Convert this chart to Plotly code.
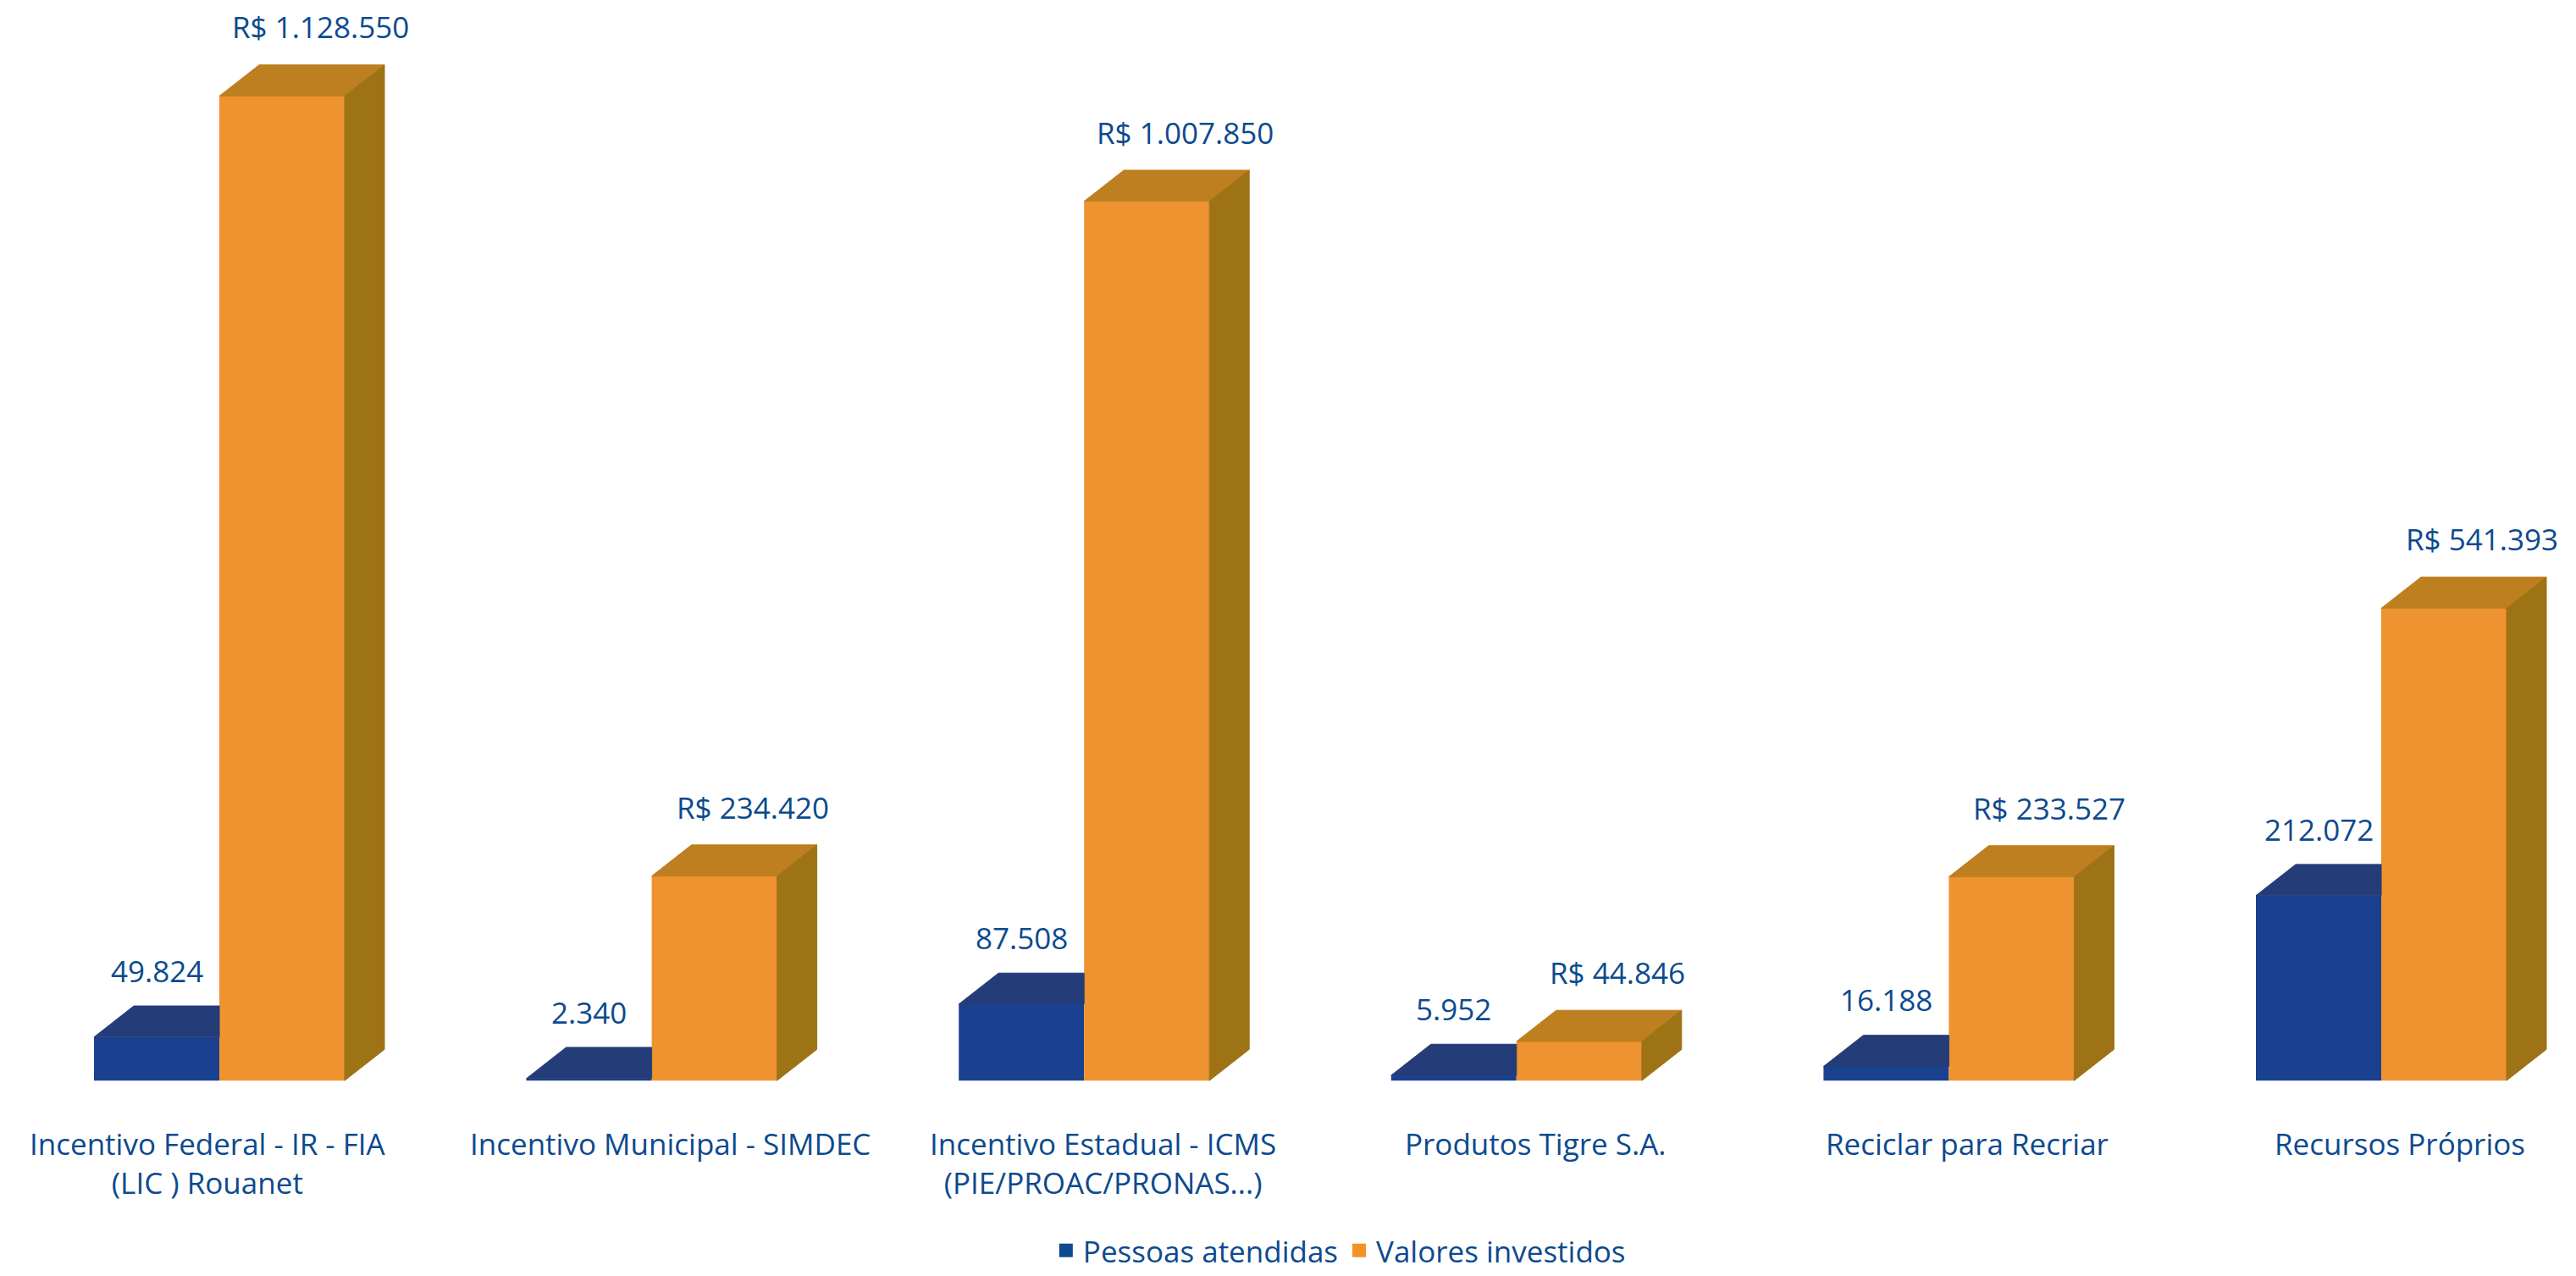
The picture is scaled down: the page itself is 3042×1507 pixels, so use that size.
import plotly.graph_objects as go

# dados
categorias = [
    "Incentivo Federal - IR - FIA<br>(LIC ) Rouanet",
    "Incentivo Municipal - SIMDEC",
    "Incentivo Estadual - ICMS<br>(PIE/PROAC/PRONAS...)",
    "Produtos Tigre S.A.",
    "Reciclar para Recriar",
    "Recursos Próprios",
]
pessoas = [49824, 2340, 87508, 5952, 16188, 212072]
valores = [1128550, 234420, 1007850, 44846, 233527, 541393]
series = ["Pessoas atendidas", "Valores investidos"]

# cores
TXT = "#0c4a8e"
AZUL = dict(front="#1a4190", top="#243d78", legend="#0d4a90")
LARANJA = dict(front="#ef9330", top="#bd7f1f", side="#9e7316", legend="#f39325")
FONT = "Open Sans"

# geometria (pixels da figura)
W, H = 3042, 1507
X0_PX, X_STEP = 259, 510.6      # posicao da categoria 0 e distancia entre categorias
BASE_PX, Y_SCALE = 1283, 1.0358e-3  # linha de base e px por unidade
BAR_W = 148 / X_STEP
DX = 47 / X_STEP
DY = 37 / Y_SCALE


def ypx(p):
    return p / Y_SCALE


def xpx(p):
    return p / X_STEP


def fmt(v, prefix=""):
    return prefix + f"{v:,}".replace(",", ".")


idx = list(range(len(categorias)))

fig = go.Figure()

# faces frontais
fig.add_trace(go.Bar(x=idx, y=pessoas, width=BAR_W, offset=-BAR_W,
                     marker=dict(color=AZUL["front"], line=dict(width=0)),
                     showlegend=False, name=series[0]))
fig.add_trace(go.Bar(x=idx, y=valores, width=BAR_W, offset=0,
                     marker=dict(color=LARANJA["front"], line=dict(width=0)),
                     showlegend=False, name=series[1]))

# topo das barras azuis (parte escondida pela barra laranja e cortada)
bx, by = [], []
for i, h in enumerate(pessoas):
    l, r = i - BAR_W, i
    if valores[i] >= h + DY:
        bx += [l, r, r, l + DX, l, None]
    else:
        bx += [l, r, r + DX, l + DX, l, None]
    by += [h, h, h + DY, h + DY, h, None]

# topo e lateral das barras laranja
tx, ty, sx, sy = [], [], [], []
for i, h in enumerate(valores):
    l, r = i, i + BAR_W
    tx += [l, r, r + DX, l + DX, l, None]
    ty += [h, h, h + DY, h + DY, h, None]
    sx += [r, r + DX, r + DX, r, r, None]
    sy += [0, DY, h + DY, h, 0, None]

for xs, ys, c in [(bx, by, AZUL["top"]), (tx, ty, LARANJA["top"]),
                  (sx, sy, LARANJA["side"])]:
    fig.add_trace(go.Scatter(x=xs, y=ys, mode="lines", fill="toself",
                             fillcolor=c, line=dict(color=c, width=1),
                             hoverinfo="skip", showlegend=False))

# entradas da legenda
for name, c in zip(series, [AZUL["legend"], LARANJA["legend"]]):
    fig.add_trace(go.Scatter(x=[None], y=[None], mode="markers", name=name,
                             marker=dict(symbol="square", size=19, color=c)))

annotations = []
# rotulos de valores
for i in idx:
    annotations.append(dict(
        x=i - BAR_W / 2, y=pessoas[i] + DY + ypx(42), text=fmt(pessoas[i]),
        showarrow=False, xanchor="center", yanchor="middle",
        font=dict(family=FONT, size=35, color=TXT)))
    annotations.append(dict(
        x=i + BAR_W / 2 + xpx(45), y=valores[i] + DY + ypx(45),
        text=fmt(valores[i], "R$ "),
        showarrow=False, xanchor="center", yanchor="middle",
        font=dict(family=FONT, size=35, color=TXT)))

# rotulos das categorias
for i, cat in enumerate(categorias):
    if i == 0:
        x, xa = -X0_PX / X_STEP + xpx(33), "left"
    else:
        x, xa = i + xpx(22), "center"
    annotations.append(dict(
        x=x, y=-ypx(1332 - BASE_PX), text=cat, showarrow=False,
        xanchor=xa, yanchor="top", align="center",
        font=dict(family=FONT, size=35, color=TXT)))

fig.update_layout(
    width=W, height=H,
    margin=dict(l=0, r=0, t=0, b=0),
    paper_bgcolor="white", plot_bgcolor="white",
    barmode="overlay",
    xaxis=dict(range=[-X0_PX / X_STEP, (W - X0_PX) / X_STEP], visible=False,
               fixedrange=True),
    yaxis=dict(range=[-ypx(H - BASE_PX), ypx(BASE_PX)], visible=False,
               fixedrange=True),
    legend=dict(orientation="h", x=0.52, y=(H - 1485) / H,
                xanchor="center", yanchor="middle", itemsizing="trace",
                font=dict(family=FONT, size=35, color=TXT),
                bgcolor="rgba(0,0,0,0)"),
    annotations=annotations,
    font=dict(family=FONT, color=TXT),
)

fig.write_html("out.html", config={"displayModeBar": False},
               post_script="document.body.style.margin='0';")
